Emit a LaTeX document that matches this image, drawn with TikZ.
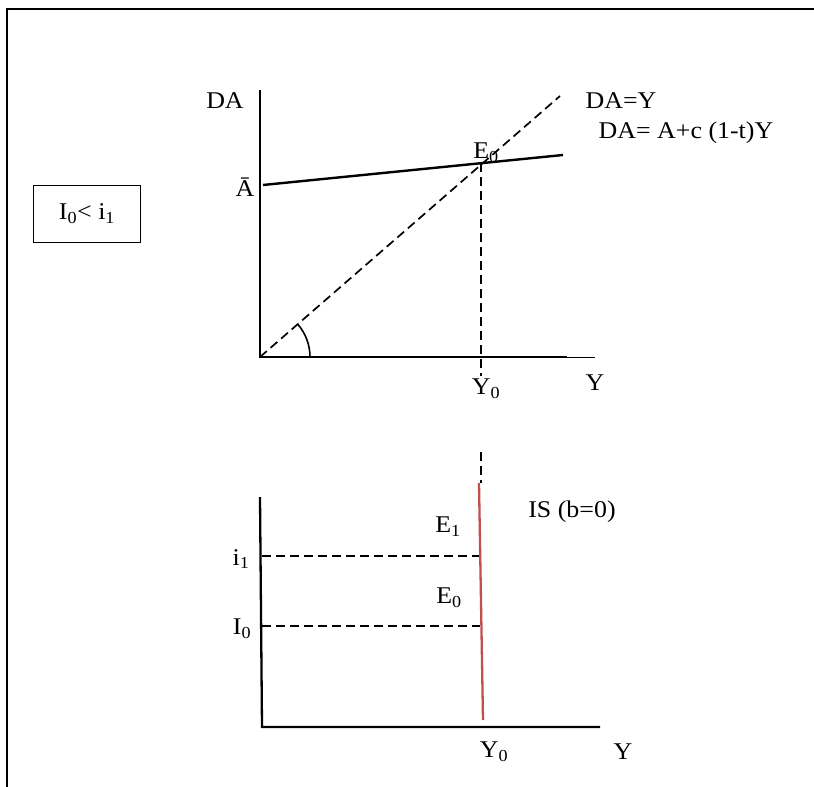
\documentclass[tikz,border=0pt]{standalone}
\usepackage{fontspec}
\setmainfont[FakeStretch=1.08]{Liberation Serif}
\begin{document}
\begin{tikzpicture}[x=1pt,y=-1pt,
  lbl/.style={font=\fontsize{24}{28}\selectfont, inner sep=0pt},
  axis/.style={line width=2.3pt},
  dsh/.style={line width=1.7pt, dash pattern=on 9pt off 5pt},
  isline/.style={line width=2.3pt, draw={rgb,255:red,192;green,80;blue,77}}]
\useasboundingbox (0,0) rectangle (814,787);
% outer frame (top and left edges)
\coordinate (fTL) at (7,9);
\coordinate (fTR) at (814,9);
\coordinate (fBL) at (7,787);
\draw[line width=2pt] (fBL) -- (fTL) -- (fTR);
% condition box
\node[lbl, draw, line width=1.6pt, minimum width=107pt, minimum height=57pt] (cond) at (87,214) {I\textsubscript{0}< i\textsubscript{1}};
% upper graph
\coordinate (uO) at (260,357);
\coordinate (uTop) at (260,90);
\coordinate (uX1) at (567,357);
\coordinate (uX2) at (595,357);
\draw[axis] (uTop) -- (uO) -- (uX1);
\draw[line width=0.9pt] (uX1) -- (uX2);
\coordinate (daL) at (263,185);
\coordinate (daR) at (563,155);
\draw[line width=2.4pt] (daL) -- (daR);
\coordinate (d45) at (560,96);
\draw[dsh] (uO) -- (d45);
\coordinate (uE) at (481,163);
\coordinate (uY0) at (481,376);
\draw[dsh] (uE) -- (uY0);
\draw[line width=1.6pt] ([shift={(50,0)}]uO) arc[start angle=0, end angle=-41, radius=50];
\node[lbl] (tDA) at (225,101) {DA};
\node[lbl] (tAbar) at (245,187) {Ā};
\node[lbl] (tE0u) at (486,153) {E\textsubscript{0}};
\node[lbl] (tDAY) at (621,101) {DA=Y};
\node[lbl] (tDAeq) at (686,133) {DA= A+c (1-t)Y};
\node[lbl] (tY0u) at (486,389) {Y\textsubscript{0}};
\node[lbl] (tYu) at (595,383) {Y};
% connecting dash between graphs
\coordinate (mA) at (481,452);
\coordinate (mB) at (481,483);
\draw[dsh] (mA) -- (mB);
% lower graph
\coordinate (lO) at (262,727);
\coordinate (lTop) at (260,497);
\coordinate (lX) at (600,727);
\draw[axis] (lTop) -- (lO) -- (lX);
\coordinate (isT) at (479,483);
\coordinate (isB) at (483,720);
\draw[isline] (isT) -- (isB);
\coordinate (i1L) at (262,556);
\coordinate (i1R) at (479,556);
\coordinate (i0L) at (262,626);
\coordinate (i0R) at (480,626);
\draw[dsh] (i1L) -- (i1R);
\draw[dsh] (i0L) -- (i0R);
\node[lbl] (ti1) at (241,559) {i\textsubscript{1}};
\node[lbl] (tI0) at (242,629) {I\textsubscript{0}};
\node[lbl] (tE1) at (448,527) {E\textsubscript{1}};
\node[lbl] (tE0l) at (449,598) {E\textsubscript{0}};
\node[lbl] (tIS) at (572,512) {IS (b=0)};
\node[lbl] (tY0l) at (494,752) {Y\textsubscript{0}};
\node[lbl] (tYl) at (623,752) {Y};
\end{tikzpicture}
\end{document}
